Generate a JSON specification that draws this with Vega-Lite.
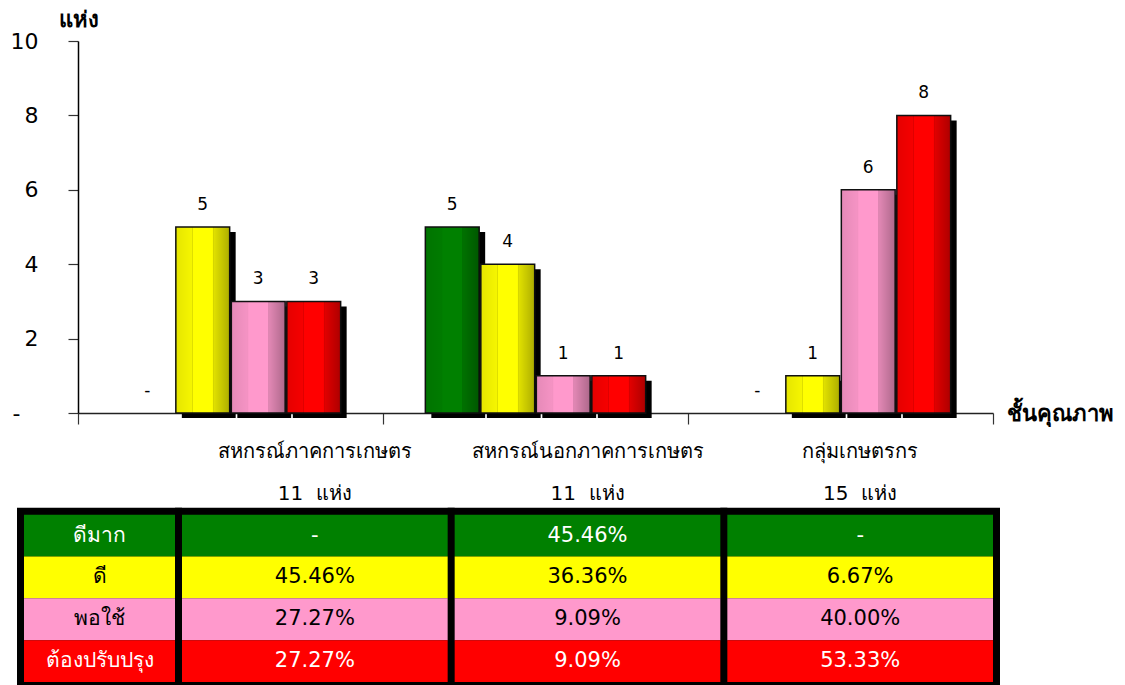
{
  "$schema": "https://vega.github.io/schema/vega-lite/v6.json",
  "width": 915,
  "height": 642,
  "autosize": {"type": "none"},
  "padding": {"left": 78, "top": 41, "right": 132, "bottom": 2},
  "background": "white",
  "config": {"view": {"stroke": null}, "font": "DejaVu Sans", "text": {"font": "DejaVu Sans"}},
  "datasets": {
    "bars": [
      {"group": "สหกรณ์ภาคการเกษตร", "grade": "ดีมาก", "value": 0},
      {"group": "สหกรณ์ภาคการเกษตร", "grade": "ดี", "value": 5},
      {"group": "สหกรณ์ภาคการเกษตร", "grade": "พอใช้", "value": 3},
      {"group": "สหกรณ์ภาคการเกษตร", "grade": "ต้องปรับปรุง", "value": 3},
      {"group": "สหกรณ์นอกภาคการเกษตร", "grade": "ดีมาก", "value": 5},
      {"group": "สหกรณ์นอกภาคการเกษตร", "grade": "ดี", "value": 4},
      {"group": "สหกรณ์นอกภาคการเกษตร", "grade": "พอใช้", "value": 1},
      {"group": "สหกรณ์นอกภาคการเกษตร", "grade": "ต้องปรับปรุง", "value": 1},
      {"group": "กลุ่มเกษตรกร", "grade": "ดีมาก", "value": 0},
      {"group": "กลุ่มเกษตรกร", "grade": "ดี", "value": 1},
      {"group": "กลุ่มเกษตรกร", "grade": "พอใช้", "value": 6},
      {"group": "กลุ่มเกษตรกร", "grade": "ต้องปรับปรุง", "value": 8}
    ],
    "table": [
      {"group": "สหกรณ์ภาคการเกษตร", "grade": "ดีมาก", "pct": "-"},
      {"group": "สหกรณ์ภาคการเกษตร", "grade": "ดี", "pct": "45.46%"},
      {"group": "สหกรณ์ภาคการเกษตร", "grade": "พอใช้", "pct": "27.27%"},
      {"group": "สหกรณ์ภาคการเกษตร", "grade": "ต้องปรับปรุง", "pct": "27.27%"},
      {"group": "สหกรณ์นอกภาคการเกษตร", "grade": "ดีมาก", "pct": "45.46%"},
      {"group": "สหกรณ์นอกภาคการเกษตร", "grade": "ดี", "pct": "36.36%"},
      {"group": "สหกรณ์นอกภาคการเกษตร", "grade": "พอใช้", "pct": "9.09%"},
      {"group": "สหกรณ์นอกภาคการเกษตร", "grade": "ต้องปรับปรุง", "pct": "9.09%"},
      {"group": "กลุ่มเกษตรกร", "grade": "ดีมาก", "pct": "-"},
      {"group": "กลุ่มเกษตรกร", "grade": "ดี", "pct": "6.67%"},
      {"group": "กลุ่มเกษตรกร", "grade": "พอใช้", "pct": "40.00%"},
      {"group": "กลุ่มเกษตรกร", "grade": "ต้องปรับปรุง", "pct": "53.33%"}
    ],
    "cols": [
      {"group": "สหกรณ์ภาคการเกษตร", "count": 11},
      {"group": "สหกรณ์นอกภาคการเกษตร", "count": 11},
      {"group": "กลุ่มเกษตรกร", "count": 15}
    ],
    "grades": [
      {"grade": "ดีมาก"},
      {"grade": "ดี"},
      {"grade": "พอใช้"},
      {"grade": "ต้องปรับปรุง"}
    ]
  },
  "layer": [
    {
      "data": {"name": "bars"},
      "encoding": {
        "xOffset": {"field": "grade", "type": "nominal", "sort": null, "scale": {"domain": ["ดีมาก", "ดี", "พอใช้", "ต้องปรับปรุง"], "paddingInner": 0.03, "paddingOuter": 0.763}},
        "y": {
          "field": "value", "type": "quantitative",
          "scale": {"domain": [0, 10], "range": [372, 0], "nice": false},
          "axis": {
            "values": [0, 2, 4, 6, 8, 10],
            "labelExpr": "datum.value == 0 ? '-' : datum.label",
            "labelFontSize": 22, "labelColor": "black", "labelFont": "DejaVu Sans",
            "labelPadding": {"condition": {"test": "datum.value == 0", "value": 48}, "value": 30},
            "tickSize": 10, "tickColor": "#333333", "tickWidth": 1.2, "domainColor": "black", "domainWidth": 1.5, "grid": false,
            "title": "แห่ง", "titleAngle": 0, "titleX": 0, "titleY": -22, "titleAlign": "center", "titleBaseline": "middle",
            "titleFontSize": 22, "titleFontWeight": "bold", "titleColor": "black", "titleFont": "DejaVu Sans"
          }
        }
      },
      "layer": [
        {
          "encoding": {
            "x": {
              "field": "group", "type": "nominal", "sort": null,
              "scale": {"domain": ["สหกรณ์ภาคการเกษตร", "สหกรณ์นอกภาคการเกษตร", "กลุ่มเกษตรกร"], "range": [6, 921], "paddingInner": 0, "paddingOuter": 0},
              "axis": null
            }
          },
          "layer": [
            {
              "transform": [{"filter": "datum.value > 0"}],
              "mark": {"type": "bar", "color": "black", "yOffset": 5, "y2Offset": 0}
            }
          ]
        },
        {
          "encoding": {
            "x": {
              "field": "group", "type": "nominal", "sort": null,
              "scale": {"domain": ["สหกรณ์ภาคการเกษตร", "สหกรณ์นอกภาคการเกษตร", "กลุ่มเกษตรกร"], "paddingInner": 0, "paddingOuter": 0},
              "axis": {
                "orient": "bottom", "offset": -270, "labels": false, "ticks": true, "tickBand": "extent",
                "tickSize": 11, "tickColor": "#333333", "tickWidth": 1.2, "domainColor": "#222222", "domainWidth": 1.5, "grid": false,
                "title": "ชั้นคุณภาพ", "titleX": 982, "titleY": 0, "titleAlign": "center", "titleBaseline": "middle",
                "titleFontSize": 22, "titleFontWeight": "bold", "titleColor": "black", "titleFont": "DejaVu Sans"
              }
            }
          },
          "layer": [
            {
              "transform": [{"filter": "datum.value > 0"}],
              "mark": {"type": "bar", "stroke": "#111111", "strokeWidth": 1.5},
              "encoding": {
                "color": {
                  "field": "grade", "type": "nominal",
                  "scale": {"domain": ["ดีมาก", "ดี", "พอใช้", "ต้องปรับปรุง"], "range": ["#008000", "#FFFF00", "#FF99CC", "#FF0000"]},
                  "legend": null
                }
              }
            },
            {
              "transform": [{"filter": "datum.value > 0"}],
              "mark": {
                "type": "bar",
                "fill": {
                  "gradient": "linear", "x1": 0, "y1": 0, "x2": 1, "y2": 0,
                  "stops": [
                    {"offset": 0, "color": "rgba(0,0,0,0.10)"},
                    {"offset": 0.30, "color": "rgba(0,0,0,0.04)"},
                    {"offset": 0.305, "color": "rgba(0,0,0,0.18)"},
                    {"offset": 0.32, "color": "rgba(0,0,0,0)"},
                    {"offset": 0.68, "color": "rgba(0,0,0,0)"},
                    {"offset": 0.695, "color": "rgba(0,0,0,0.18)"},
                    {"offset": 0.71, "color": "rgba(0,0,0,0.12)"},
                    {"offset": 1, "color": "rgba(0,0,0,0.32)"}
                  ]
                }
              }
            },
            {
              "transform": [{"calculate": "datum.value == 0 ? '-' : '' + datum.value", "as": "lbl"}],
              "mark": {"type": "text", "fontSize": 17, "dy": -22, "baseline": "middle", "color": "black", "font": "DejaVu Sans"},
              "encoding": {"text": {"field": "lbl"}}
            }
          ]
        }
      ],
      "resolve": {"scale": {"x": "independent"}}
    },
    {
      "layer": [
        {
          "data": {"name": "table"},
          "encoding": {
            "x": {
              "field": "group", "type": "nominal", "sort": null,
              "scale": {"domain": ["สหกรณ์ภาคการเกษตร", "สหกรณ์นอกภาคการเกษตร", "กลุ่มเกษตรกร"], "range": [104, 915], "paddingInner": 0.0257, "paddingOuter": 0},
              "axis": null
            },
            "y": {
              "field": "grade", "type": "nominal", "sort": null,
              "scale": {"domain": ["h1", "h2", "ดีมาก", "ดี", "พอใช้", "ต้องปรับปรุง"], "range": [390, 641], "paddingInner": 0, "paddingOuter": 0},
              "axis": null
            }
          },
          "layer": [
            {"mark": {"type": "rect", "fill": "black", "stroke": "black", "strokeWidth": 14}},
            {
              "mark": {"type": "rect"},
              "encoding": {
                "color": {
                  "field": "grade", "type": "nominal",
                  "scale": {"domain": ["ดีมาก", "ดี", "พอใช้", "ต้องปรับปรุง"], "range": ["#008000", "#FFFF00", "#FF99CC", "#FF0000"]},
                  "legend": null
                }
              }
            },
            {
              "mark": {"type": "text", "fontSize": 21, "baseline": "middle", "font": "DejaVu Sans"},
              "encoding": {
                "text": {"field": "pct"},
                "color": {"condition": {"test": "datum.grade == 'ดีมาก' || datum.grade == 'ต้องปรับปรุง'", "value": "white"}, "value": "black"}
              }
            },
            {
              "data": {"name": "cols"},
              "mark": {"type": "text", "fontSize": 20, "baseline": "middle", "color": "black", "font": "DejaVu Sans"},
              "encoding": {"y": {"datum": "h1", "type": "nominal"}, "text": {"field": "group"}}
            },
            {
              "data": {"name": "cols"},
              "transform": [{"calculate": "datum.count + '\u00a0\u00a0แห่ง'", "as": "cnt"}],
              "mark": {"type": "text", "fontSize": 20, "baseline": "middle", "color": "black", "font": "DejaVu Sans"},
              "encoding": {"y": {"datum": "h2", "type": "nominal"}, "text": {"field": "cnt"}}
            }
          ]
        },
        {
          "data": {"name": "grades"},
          "encoding": {
            "x": {"datum": "ชั้นคุณภาพ", "type": "nominal", "scale": {"range": [-54, 97], "paddingInner": 0, "paddingOuter": 0}, "axis": null},
            "y": {"field": "grade", "type": "nominal", "sort": null, "axis": null}
          },
          "layer": [
            {"mark": {"type": "rect", "fill": "black", "stroke": "black", "strokeWidth": 14}},
            {
              "mark": {"type": "rect"},
              "encoding": {
                "color": {
                  "field": "grade", "type": "nominal",
                  "scale": {"domain": ["ดีมาก", "ดี", "พอใช้", "ต้องปรับปรุง"], "range": ["#008000", "#FFFF00", "#FF99CC", "#FF0000"]},
                  "legend": null
                }
              }
            },
            {
              "mark": {"type": "text", "fontSize": 21, "baseline": "middle", "font": "DejaVu Sans"},
              "encoding": {
                "text": {"field": "grade"},
                "color": {"condition": {"test": "datum.grade == 'ดีมาก' || datum.grade == 'ต้องปรับปรุง'", "value": "white"}, "value": "black"}
              }
            }
          ]
        }
      ],
      "resolve": {"scale": {"x": "independent"}}
    }
  ],
  "resolve": {"scale": {"x": "independent", "y": "independent"}}
}
